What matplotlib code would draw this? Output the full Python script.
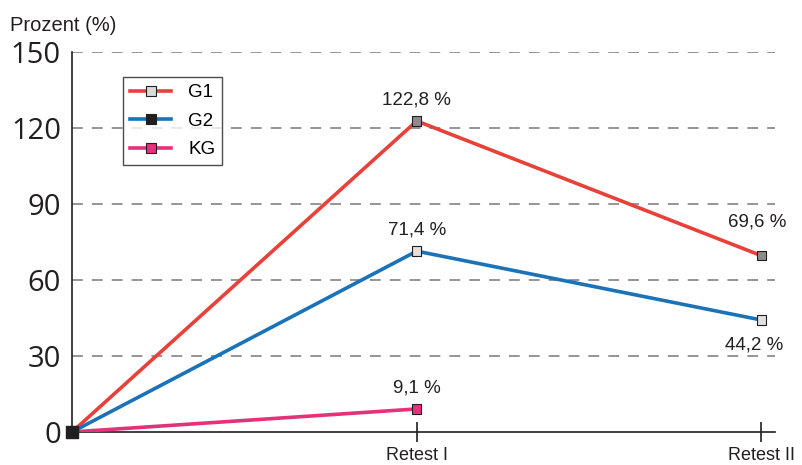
import matplotlib.pyplot as plt
import numpy as np

plt.rcParams['font.family'] = ['Liberation Sans', 'DejaVu Sans']

labels = ["", "Retest I", "Retest II"]
groups = ["G1", "G2", "KG"]
g1 = [0, 122.8, 69.6]
g2 = [0, 71.4, 44.2]
kg = [0, 9.1, np.nan]
yticks = [0, 30, 60, 90, 120, 150]

colors = {"G1": "#e8413a", "G2": "#1a72b8", "KG": "#e5307a"}
# marker face per point, plus the face shown in the legend
faces = {
    "G1": ["#231f20", "#8c8c8c", "#8c8c8c"],
    "G2": ["#231f20", "#e0e0e0", "#e0e0e0"],
    "KG": ["#231f20", "#e5307a", "#e5307a"],
}
legend_faces = {"G1": "#d9d9d9", "G2": "#231f20", "KG": "#e5307a"}
# (dx, dy) in points for the value labels, centred on the text
label_offsets = {
    "G1": [None, (0, 15), (-3, 24)],
    "G2": [None, (0, 15), (-5, -18)],
    "KG": [None, (0, 15), None],
}

fig = plt.figure(figsize=(8.02, 4.65), dpi=100)
ax = fig.add_axes([0.0898, 0.071, 0.876, 0.817])

x = np.arange(len(labels))
series = {"G1": g1, "G2": g2, "KG": kg}
handles = []
for name in groups:
    vals = np.array(series[name], dtype=float)
    ax.plot(x, vals, color=colors[name], lw=2.6, zorder=3)
    ok = ~np.isnan(vals)
    ax.scatter(x[ok], vals[ok], marker="s", s=45, c=[faces[name][i] for i in np.where(ok)[0]],
               edgecolors="#231f20", linewidths=0.8, zorder=4, clip_on=False)
    h, = ax.plot([], [], color=colors[name], lw=2.6, marker="s", ms=6.5,
                 mfc=legend_faces[name], mec="#231f20", mew=0.8)
    handles.append(h)
    for i in range(1, len(vals)):
        if ok[i]:
            ax.annotate(f"{vals[i]:.1f} %".replace(".", ","), (x[i], vals[i]),
                        xytext=label_offsets[name][i], textcoords="offset points",
                        ha="center", va="center", fontsize=13.5, color="#231f20")

# origin marker on top of all three lines
ax.scatter([0], [0], marker="s", s=75, c="#231f20", zorder=5, clip_on=False)

ax.set_xlim(0, 2.038)
ax.set_ylim(0, 150)
ax.set_yticks(yticks)
ax.set_yticklabels([str(t) for t in yticks], family=["Open Sans", "DejaVu Sans"],
                   fontsize=21, color="#231f20")
ax.tick_params(axis="y", length=0, pad=8)
ax.set_xticks(x[1:])
ax.set_xticklabels(labels[1:], fontsize=13, color="#231f20")
ax.tick_params(axis="x", direction="inout", length=14, width=1.2, color="#231f20", pad=4)

for t in yticks[1:]:
    ax.axhline(t, color="#8c8c8c", lw=1.3, ls=(0, (6, 5)), zorder=1)

for s in ["top", "right"]:
    ax.spines[s].set_visible(False)
for s in ["left", "bottom"]:
    ax.spines[s].set_color("#231f20")
    ax.spines[s].set_linewidth(1.2)

fig.text(0.012, 0.945, "Prozent (%)", fontsize=14.5, color="#231f20", va="center")

leg = ax.legend(handles, groups, loc="upper left", bbox_to_anchor=(0.0725, 0.934),
                fontsize=13.5, frameon=True, fancybox=False, edgecolor="#231f20",
                handlelength=2.2, handletextpad=0.9, borderpad=0.38, labelspacing=0.6,
                borderaxespad=0)
leg.get_frame().set_linewidth(1.0)

fig.savefig("out.png", dpi=100)
